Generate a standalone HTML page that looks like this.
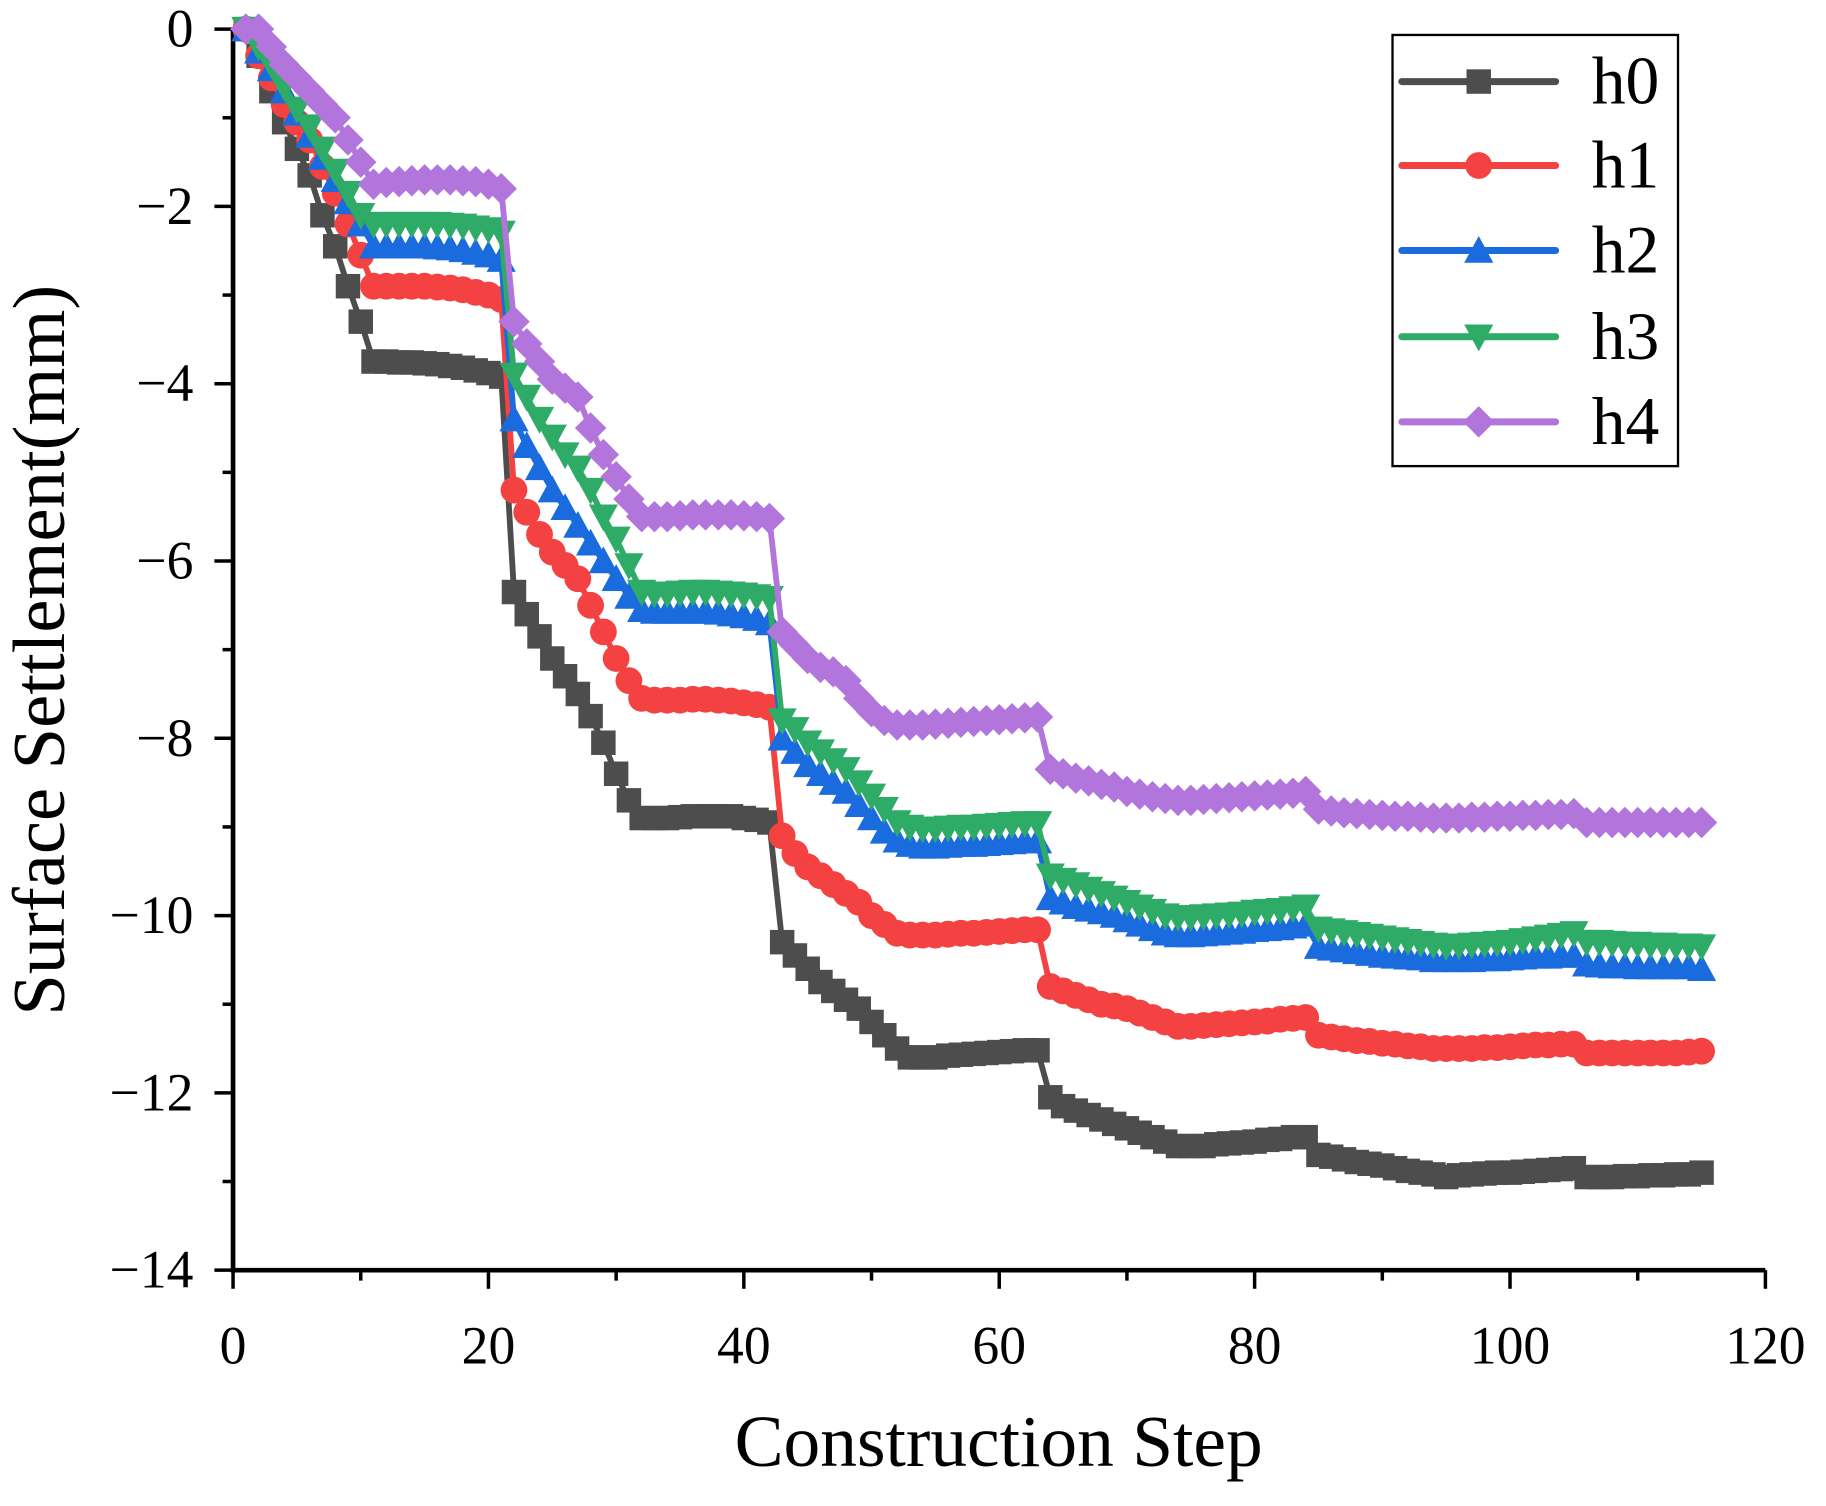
<!DOCTYPE html>
<html><head><meta charset="utf-8"><style>
html,body{margin:0;padding:0;background:#fff;}
svg{display:block;}
text{font-family:"Liberation Serif",serif;fill:#000;}
</style></head><body>
<svg id="chart" width="1826" height="1506" viewBox="0 0 1567 1292.4" preserveAspectRatio="none" xmlns="http://www.w3.org/2000/svg">
<g id="axes"></g>
<g id="series"></g>
<g id="legend"></g>
</svg>
<script>
const xTicks=[0,20,40,60,80,100,120];
const yTicks=[0,-2,-4,-6,-8,-10,-12,-14];
const seriesNames=["h0","h1","h2","h3","h4"];
const h0=[0,-0.3,-0.7,-1.05,-1.35,-1.65,-2.1,-2.45,-2.9,-3.3,
-3.75,-3.75,-3.76,-3.76,-3.77,-3.78,-3.8,-3.82,-3.85,-3.88,-3.92,
-6.35,-6.6,-6.85,-7.1,-7.3,-7.5,-7.75,-8.05,-8.4,-8.7,-8.9,
-8.9,-8.9,-8.89,-8.88,-8.88,-8.88,-8.88,-8.9,-8.92,-8.95,
-10.3,-10.45,-10.6,-10.75,-10.85,-10.95,-11.05,-11.2,-11.35,-11.5,-11.6,
-11.6,-11.6,-11.58,-11.57,-11.56,-11.55,-11.54,-11.53,-11.52,-11.52,
-12.05,-12.15,-12.2,-12.25,-12.3,-12.35,-12.4,-12.45,-12.5,-12.55,-12.6,
-12.6,-12.6,-12.58,-12.57,-12.56,-12.55,-12.53,-12.52,-12.5,-12.5,
-12.7,-12.72,-12.75,-12.78,-12.8,-12.82,-12.85,-12.88,-12.9,-12.92,-12.95,
-12.93,-12.92,-12.91,-12.9,-12.9,-12.89,-12.88,-12.87,-12.86,-12.85,
-12.95,-12.95,-12.95,-12.94,-12.94,-12.93,-12.93,-12.92,-12.92,-12.9];
const h1=[0,-0.3,-0.55,-0.85,-1.05,-1.25,-1.55,-1.85,-2.2,-2.55,
-2.9,-2.9,-2.9,-2.9,-2.9,-2.91,-2.92,-2.94,-2.97,-3.0,-3.05,
-5.2,-5.45,-5.7,-5.9,-6.05,-6.2,-6.5,-6.8,-7.1,-7.35,-7.55,
-7.57,-7.57,-7.57,-7.56,-7.56,-7.57,-7.58,-7.6,-7.62,-7.65,
-9.1,-9.3,-9.45,-9.55,-9.65,-9.75,-9.85,-10.0,-10.1,-10.2,-10.22,
-10.22,-10.22,-10.21,-10.2,-10.2,-10.19,-10.18,-10.17,-10.16,-10.16,
-10.8,-10.85,-10.9,-10.95,-11.0,-11.02,-11.05,-11.1,-11.15,-11.2,-11.25,
-11.25,-11.24,-11.23,-11.22,-11.21,-11.2,-11.19,-11.17,-11.16,-11.15,
-11.35,-11.37,-11.39,-11.41,-11.42,-11.44,-11.45,-11.47,-11.48,-11.5,-11.5,
-11.5,-11.5,-11.49,-11.49,-11.48,-11.47,-11.46,-11.46,-11.45,-11.45,
-11.55,-11.55,-11.55,-11.55,-11.55,-11.55,-11.55,-11.55,-11.54,-11.53];
const h2=[0,-0.25,-0.45,-0.7,-0.95,-1.2,-1.45,-1.7,-1.95,-2.2,
-2.45,-2.45,-2.45,-2.45,-2.45,-2.46,-2.47,-2.49,-2.52,-2.55,-2.6,
-4.4,-4.7,-4.95,-5.2,-5.4,-5.6,-5.8,-6.0,-6.2,-6.4,-6.55,
-6.57,-6.57,-6.57,-6.57,-6.57,-6.58,-6.6,-6.62,-6.65,-6.7,
-8.0,-8.15,-8.3,-8.4,-8.5,-8.6,-8.75,-8.9,-9.05,-9.15,-9.2,
-9.22,-9.22,-9.21,-9.2,-9.2,-9.19,-9.18,-9.17,-9.16,-9.16,
-9.8,-9.85,-9.9,-9.93,-9.96,-10.0,-10.05,-10.1,-10.15,-10.2,-10.22,
-10.22,-10.21,-10.2,-10.19,-10.18,-10.16,-10.15,-10.14,-10.12,-10.1,
-10.35,-10.37,-10.39,-10.41,-10.43,-10.45,-10.46,-10.47,-10.48,-10.5,-10.5,
-10.5,-10.5,-10.49,-10.49,-10.48,-10.47,-10.46,-10.46,-10.45,-10.45,
-10.55,-10.56,-10.57,-10.57,-10.58,-10.58,-10.58,-10.58,-10.58,-10.6];
const h3=[0,-0.2,-0.4,-0.65,-0.9,-1.1,-1.35,-1.6,-1.85,-2.1,
-2.2,-2.2,-2.2,-2.2,-2.2,-2.2,-2.21,-2.22,-2.24,-2.26,-2.3,
-3.9,-4.15,-4.4,-4.6,-4.8,-4.95,-5.2,-5.5,-5.75,-6.05,-6.35,
-6.37,-6.37,-6.36,-6.35,-6.35,-6.36,-6.37,-6.38,-6.4,-6.42,
-7.8,-7.9,-8.05,-8.15,-8.25,-8.35,-8.5,-8.65,-8.8,-8.95,-9.0,
-9.02,-9.02,-9.01,-9.0,-9.0,-8.99,-8.98,-8.97,-8.96,-8.96,
-9.55,-9.6,-9.65,-9.7,-9.75,-9.8,-9.85,-9.9,-9.95,-10.0,-10.02,
-10.02,-10.01,-10.0,-9.99,-9.98,-9.96,-9.95,-9.94,-9.92,-9.9,
-10.15,-10.17,-10.19,-10.21,-10.23,-10.25,-10.27,-10.29,-10.31,-10.33,-10.35,
-10.34,-10.33,-10.32,-10.31,-10.3,-10.28,-10.26,-10.24,-10.22,-10.2,
-10.3,-10.3,-10.31,-10.32,-10.32,-10.33,-10.33,-10.34,-10.34,-10.35];
const h4=[0,0,-0.2,-0.4,-0.55,-0.7,-0.85,-1.0,-1.25,-1.5,
-1.75,-1.73,-1.72,-1.71,-1.7,-1.7,-1.7,-1.71,-1.72,-1.75,-1.8,
-3.3,-3.55,-3.75,-3.95,-4.05,-4.15,-4.5,-4.8,-5.05,-5.3,-5.5,
-5.5,-5.5,-5.49,-5.48,-5.48,-5.48,-5.48,-5.49,-5.5,-5.52,
-6.8,-6.95,-7.1,-7.2,-7.25,-7.35,-7.55,-7.7,-7.8,-7.85,-7.85,
-7.85,-7.84,-7.83,-7.82,-7.81,-7.8,-7.79,-7.78,-7.77,-7.76,
-8.35,-8.4,-8.45,-8.48,-8.52,-8.55,-8.6,-8.63,-8.66,-8.68,-8.7,
-8.7,-8.69,-8.68,-8.67,-8.66,-8.65,-8.64,-8.63,-8.62,-8.6,
-8.8,-8.82,-8.84,-8.85,-8.86,-8.87,-8.88,-8.88,-8.89,-8.9,-8.9,
-8.9,-8.89,-8.89,-8.88,-8.88,-8.87,-8.87,-8.86,-8.86,-8.85,
-8.95,-8.95,-8.95,-8.95,-8.95,-8.95,-8.95,-8.95,-8.95,-8.95];

const NS="http://www.w3.org/2000/svg";
const X0=200,X1=1515,Y0=25,Y1=1090;
const xs=v=>X0+(v-0)/(120-0)*(X1-X0);
const ys=v=>Y0+(0-v)/(14)*(Y1-Y0);
function mk(tag,attrs,parent){const e=document.createElementNS(NS,tag);for(const k in attrs)e.setAttribute(k,attrs[k]);parent.appendChild(e);return e;}
const axes=document.getElementById('axes'),sg=document.getElementById('series'),lg=document.getElementById('legend');

let el=mk('line',{x1:X0,y1:Y0,x2:X0,y2:Y1+2,stroke:'#000','stroke-width':4},axes);


el=mk('line',{x1:X0-2,y1:Y1,x2:X1,y2:Y1,stroke:'#000','stroke-width':4},axes);


for(let v=0;v<=120;v+=10){
  const major=v%20===0;
  el=mk('line',{x1:xs(v),y1:Y1,x2:xs(v),y2:Y1+(major?16:9),stroke:'#000','stroke-width':3},axes);
  
  
}
xTicks.forEach(v=>{
  el=mk('text',{x:xs(v),y:1170,'text-anchor':'middle','font-size':46},axes);el.textContent=v;
  
  
});
for(let v=0;v>=-14;v-=1){
  const major=v%2===0;
  el=mk('line',{x1:X0-(major?16:9),y1:ys(v),x2:X0,y2:ys(v),stroke:'#000','stroke-width':3},axes);
  
  
}
yTicks.forEach(v=>{
  el=mk('text',{x:166,y:ys(v)+15,'text-anchor':'end','font-size':46},axes);el.textContent=(v<0?'\u2212'+(-v):v);
  
  
});
el=mk('text',{x:857,y:1258,'text-anchor':'middle','font-size':63},axes);el.textContent='Construction Step';


el=mk('text',{x:0,y:0,'text-anchor':'middle','font-size':64,transform:'translate(55,558) rotate(-90)'},axes);el.textContent='Surface Settlement(mm)';



const colors=['#4d4d4d','#f44141','#1a6cde','#2fab68','#b275db'];
const all=[h0,h1,h2,h3,h4];
function marker(type,x,y,c,g){
  const s=10.5;
  if(type===0) return mk('rect',{x:x-s,y:y-s,width:2*s,height:2*s,fill:c},g);
  if(type===1) return mk('circle',{cx:x,cy:y,r:s+1,fill:c},g);
  if(type===2) return mk('polygon',{points:`${x},${y-s-2} ${x+s+2},${y+s} ${x-s-2},${y+s}`,fill:c},g);
  if(type===3) return mk('polygon',{points:`${x},${y+s+2} ${x+s+2},${y-s} ${x-s-2},${y-s}`,fill:c},g);
  return mk('polygon',{points:`${x},${y-s-3} ${x+s+3},${y} ${x},${y+s+3} ${x-s-3},${y}`,fill:c},g);
}
all.forEach((arr,i)=>{
  const g=mk('g',{},sg);
  
  
  const pts=arr.map((v,k)=>xs(k+1)+','+ys(v)).join(' ');
  const pl=mk('polyline',{points:pts,fill:'none',stroke:colors[i],'stroke-width':5,'stroke-linejoin':'round','stroke-linecap':'round'},g);
  
  
  arr.forEach((v,k)=>{
    const m=marker(i,xs(k+1),ys(v),colors[i],g);
    
    
  });
});

el=mk('rect',{x:1195,y:30,width:245,height:370,fill:'#fff',stroke:'#000','stroke-width':2},lg);


const ly=[70,142,215,289,362];
seriesNames.forEach((n,i)=>{
  const g=mk('g',{},lg);
  
  
  mk('line',{x1:1203,y1:ly[i],x2:1335,y2:ly[i],stroke:colors[i],'stroke-width':6,'stroke-linecap':'round'},g);
  marker(i,1269,ly[i],colors[i],g);
  const t=mk('text',{x:1366,y:ly[i]+19,'font-size':58},g);t.textContent=n;
  
  
});
</script>
</body></html>
